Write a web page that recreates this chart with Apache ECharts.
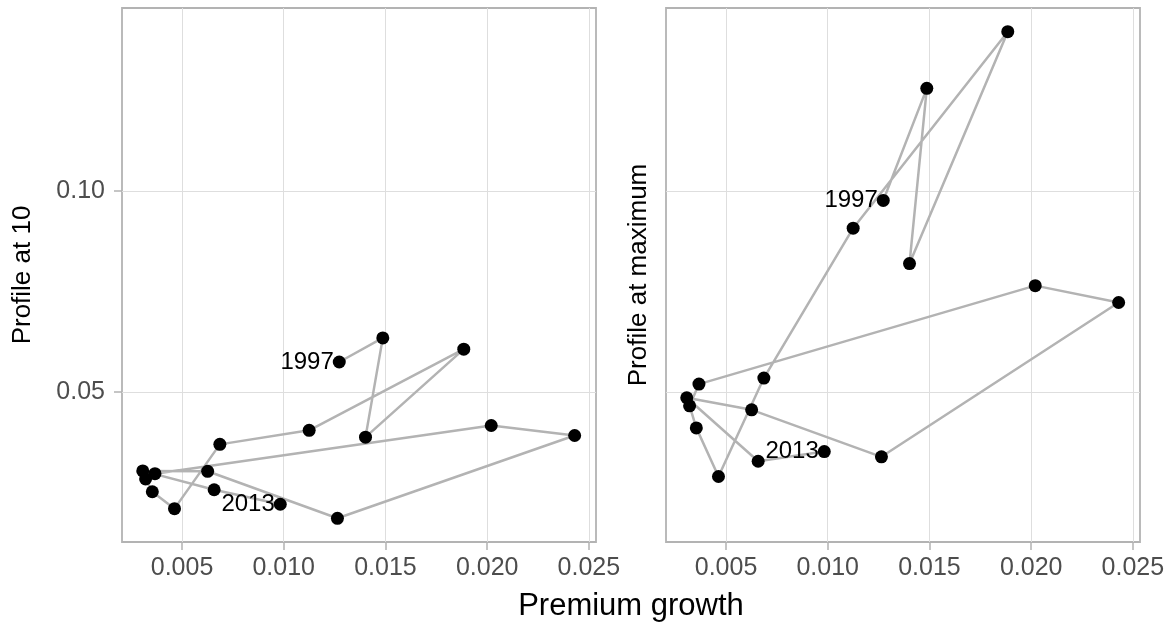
<!DOCTYPE html>
<html>
<head>
<meta charset="utf-8"/>
<script src="https://cdn.jsdelivr.net/npm/echarts@6/dist/echarts.min.js"></script>
<style>
  html, body { margin: 0; padding: 0; background: #fff; }
  #chart { width: 1174px; height: 625px; }
</style>
</head>
<body>
<div id="chart"></div>
<script>
// one point per year
var years = [1997, 1998, 1999, 2000, 2001, 2002, 2003, 2004, 2005,
             2006, 2007, 2008, 2009, 2010, 2011, 2012, 2013];
var premiumGrowth = [0.01273, 0.01487, 0.01402, 0.01885, 0.01125, 0.00686, 0.00463, 0.00354, 0.00321,
                     0.00367, 0.0202, 0.0243, 0.01264, 0.00626, 0.00307, 0.00658, 0.00983];
var profileAt10 = [0.0575, 0.0635, 0.0388, 0.0607, 0.0405, 0.0370, 0.0210, 0.0252, 0.0284,
                   0.0297, 0.0417, 0.0392, 0.0186, 0.0303, 0.0304, 0.0257, 0.0221];
var profileAtMax = [0.0977, 0.1256, 0.0820, 0.1397, 0.0908, 0.0535, 0.0290, 0.0411, 0.0466,
                    0.0520, 0.0765, 0.0723, 0.0339, 0.0456, 0.0486, 0.0328, 0.0352];
var xTicks = [0.005, 0.010, 0.015, 0.020, 0.025];
var yTicks = [0.05, 0.10];

var FONT = 'Liberation Sans';
var GREY = '#b3b3b3';

function pairs(ys){
  var out = [];
  for (var i = 0; i < years.length; i++) out.push([premiumGrowth[i], ys[i]]);
  return out;
}
function endLabel(p){
  if (p.dataIndex === 0 || p.dataIndex === years.length - 1) return String(years[p.dataIndex]);
  return '';
}

function xAxisOpt(idx){
  return {
    type: 'value', gridIndex: idx, min: 0.00205, max: 0.02535,
    axisLine: {show: false},
    axisTick: {show: true, length: 8, customValues: xTicks, lineStyle: {color: GREY, width: 1.5}},
    axisLabel: {customValues: xTicks, margin: 14, color: '#4d4d4d', fontSize: 25, fontFamily: FONT,
      formatter: function(v){ return v.toFixed(3); }},
    splitLine: {show: true, lineStyle: {color: '#dedede', width: 1}}
  };
}
function yAxisOpt(idx, name, gap, labels){
  return {
    type: 'value', gridIndex: idx, min: 0.0127, max: 0.1456,
    name: name, nameLocation: 'middle', nameGap: gap,
    nameTextStyle: {color: '#000', fontSize: 26, fontFamily: FONT},
    axisLine: {show: false},
    axisTick: {show: labels, length: 8, customValues: yTicks, lineStyle: {color: GREY, width: 1.5}},
    axisLabel: {show: labels, customValues: yTicks, margin: 17, color: '#4d4d4d', fontSize: 25, fontFamily: FONT,
      formatter: function(v){ return v.toFixed(2); }},
    splitLine: {show: true, lineStyle: {color: '#dedede', width: 1}}
  };
}
function pathSeries(idx, ys){
  return {
    type: 'line', xAxisIndex: idx, yAxisIndex: idx,
    data: pairs(ys),
    symbol: 'circle', symbolSize: 13,
    itemStyle: {color: '#000'},
    lineStyle: {color: GREY, width: 2.5},
    label: {show: true, position: 'left', distance: -1, formatter: endLabel,
      color: '#000', fontSize: 24, fontFamily: FONT},
    emphasis: {disabled: true}
  };
}

var chart = echarts.init(document.getElementById('chart'));
chart.setOption({
  animation: false,
  textStyle: {fontFamily: FONT},
  grid: [
    {left: 122, top: 8, width: 474, height: 534, show: true, borderColor: GREY, borderWidth: 1.8, backgroundColor: '#fff'},
    {left: 666, top: 8, width: 474, height: 534, show: true, borderColor: GREY, borderWidth: 1.8, backgroundColor: '#fff'}
  ],
  xAxis: [xAxisOpt(0), xAxisOpt(1)],
  yAxis: [yAxisOpt(0, 'Profile at 10', 86, true), yAxisOpt(1, 'Profile at maximum', 14, false)],
  series: [pathSeries(0, profileAt10), pathSeries(1, profileAtMax)],
  graphic: [{
    type: 'text', x: 631, y: 606,
    style: {text: 'Premium growth', fill: '#000', font: '31px "Liberation Sans"',
      textAlign: 'center', textVerticalAlign: 'middle'}
  }]
});
</script>
</body>
</html>
